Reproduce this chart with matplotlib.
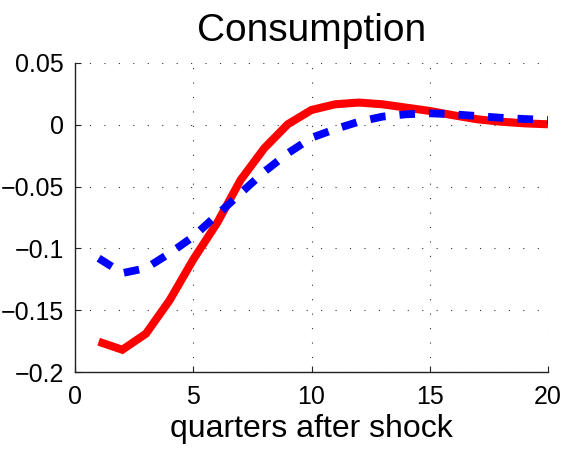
import matplotlib
matplotlib.use("Agg")
import matplotlib.pyplot as plt

plt.rcParams['font.family'] = ['Liberation Sans', 'DejaVu Sans']

quarters = list(range(1, 21))
red_series = [-0.1755, -0.182, -0.169, -0.142, -0.109, -0.0797, -0.0447, -0.019,
              0.0005, 0.0120, 0.0166, 0.0180, 0.0166, 0.0139, 0.0112, 0.0077,
              0.0045, 0.0025, 0.0012, 0.0004]
blue_series = [-0.108, -0.120, -0.116, -0.104, -0.0905, -0.073, -0.0554, -0.038,
               -0.023, -0.0105, -0.0035, 0.0025, 0.0066, 0.0085, 0.0093, 0.0085,
               0.0071, 0.0057, 0.0047, 0.0039]
x_ticks = [0, 5, 10, 15, 20]
y_ticks = [-0.2, -0.15, -0.1, -0.05, 0, 0.05]
y_tick_labels = ['\u22120.2', '\u22120.15', '\u22120.1', '\u22120.05', '0', '0.05']

fig = plt.figure(figsize=(5.62, 4.53), dpi=100)
ax = fig.add_axes([75 / 562, 81 / 453, 473 / 562, 309 / 453])

ax.plot(quarters, red_series, color='#ff0000', lw=5.8, solid_joinstyle='miter',
        solid_capstyle='butt', zorder=3)
ax.plot(quarters, blue_series, color='#0000ff', lw=5.6, linestyle=(0, (2.0, 1.8)),
        dash_capstyle='butt', zorder=4)

ax.set_xlim(0, 20)
ax.set_ylim(-0.2, 0.05)
ax.set_xticks(x_ticks)
ax.set_yticks(y_ticks)
ax.set_yticklabels(y_tick_labels)

for side in ('top', 'right'):
    ax.spines[side].set_visible(False)
for side in ('left', 'bottom'):
    ax.spines[side].set_color('#222222')
    ax.spines[side].set_linewidth(1.0)

ax.tick_params(direction='in', length=4, width=0.8, labelsize=18, pad=8,
               color='#222222')
ax.tick_params(axis='x', pad=9)
ax.grid(True, color='#333333', linestyle=(0, (1, 12)), linewidth=0.8)
ax.set_axisbelow(True)

ax.set_title('Consumption', fontsize=28, pad=16)
ax.set_xlabel('quarters after shock', fontsize=23, labelpad=4)

fig.savefig('out.png', dpi=100)
